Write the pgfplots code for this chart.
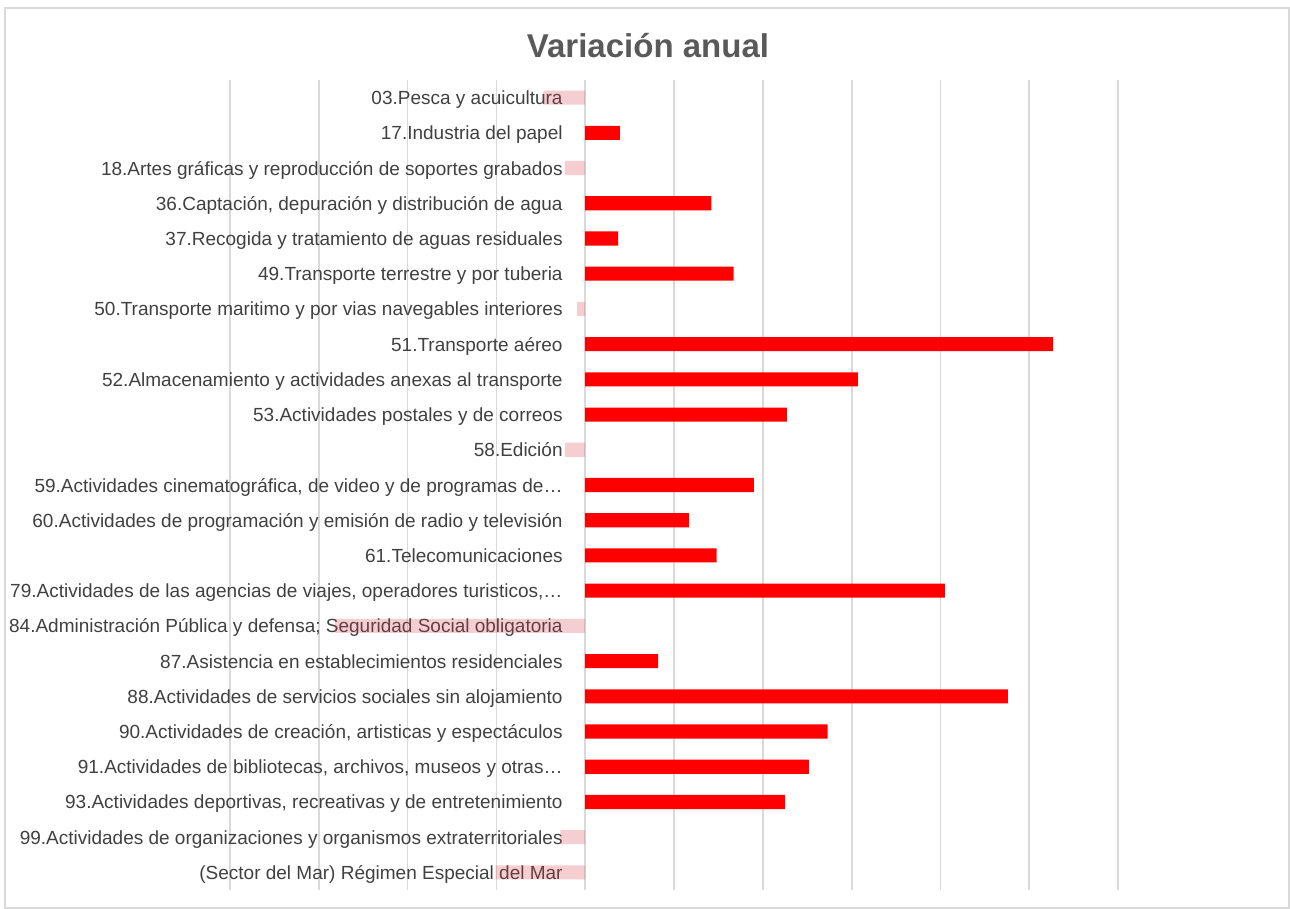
\documentclass[border=0pt]{standalone}
\usepackage{fontspec}
\setmainfont{Liberation Sans}
\usepackage{pgfplots}
\pgfplotsset{compat=1.18}
\definecolor{barred}{RGB}{255,0,0}
\definecolor{barpink}{RGB}{210,60,70}
\definecolor{gridgray}{RGB}{217,217,217}
\definecolor{txtgray}{RGB}{64,64,64}
\definecolor{titlegray}{RGB}{89,89,89}
\begin{document}
\begin{tikzpicture}
\path[use as bounding box] (-115pt,-9.5pt) rectangle (530pt,445pt);
\draw[gridgray, line width=0.8pt] (-112.5pt,-9pt) rectangle (529.5pt,441pt);
\begin{axis}[
 at={(0,0)}, anchor=south west,
 scale only axis, width=444pt, height=405pt,
 xmin=-40, xmax=60, ymin=-0.5, ymax=22.5, y dir=reverse,
 xtick={-40,-30,...,60}, xticklabels={},
 xmajorgrids, major grid style={gridgray, line width=0.9pt},
 ytick={0,...,22},
 yticklabels={
  03.Pesca y acuicultura,
  17.Industria del papel,
  18.Artes gráficas y reproducción de soportes grabados,
  {36.Captación, depuración y distribución de agua},
  37.Recogida y tratamiento de aguas residuales,
  49.Transporte terrestre y por tuberia,
  50.Transporte maritimo y por vias navegables interiores,
  51.Transporte aéreo,
  52.Almacenamiento y actividades anexas al transporte,
  53.Actividades postales y de correos,
  58.Edición,
  {59.Actividades cinematográfica, de video y de programas de…},
  60.Actividades de programación y emisión de radio y televisión,
  61.Telecomunicaciones,
  {79.Actividades de las agencias de viajes, operadores turisticos,…},
  84.Administración Pública y defensa; Seguridad Social obligatoria,
  87.Asistencia en establecimientos residenciales,
  88.Actividades de servicios sociales sin alojamiento,
  {90.Actividades de creación, artisticas y espectáculos},
  {91.Actividades de bibliotecas, archivos, museos y otras…},
  {93.Actividades deportivas, recreativas y de entretenimiento},
  99.Actividades de organizaciones y organismos extraterritoriales,
  (Sector del Mar) Régimen Especial del Mar
 },
 major tick length=0pt,
 axis line style={draw=none},
 yticklabel style={font=\fontsize{9.5pt}{11pt}\selectfont, text=txtgray, anchor=east, inner sep=0pt, text height=7pt, text depth=2pt, xshift=166.5pt, yshift=-1pt},
 xbar, bar width=0.4, bar shift=0pt,
 title={Variación anual},
 title style={at={(0.4707,1)}, anchor=base, yshift=5pt, font=\fontsize{16.5pt}{19pt}\selectfont\bfseries, text=titlegray},
 clip=false,
]
\addplot[fill=barpink, fill opacity=0.25, draw=none, bar shift=0pt] coordinates {
 (-4.7,0) (-2.3,2) (-0.9,6) (-2.3,10) (-28.2,15) (-2.8,21) (-10.1,22)
};
\addplot[fill=barred, draw=none, bar shift=0pt] coordinates {
 (3.9,1) (14.2,3) (3.7,4) (16.7,5) (52.7,7) (30.7,8) (22.7,9)
 (19.0,11) (11.7,12) (14.8,13) (40.5,14) (8.2,16) (47.6,17)
 (27.3,18) (25.2,19) (22.5,20)
};
\end{axis}
\end{tikzpicture}
\end{document}
